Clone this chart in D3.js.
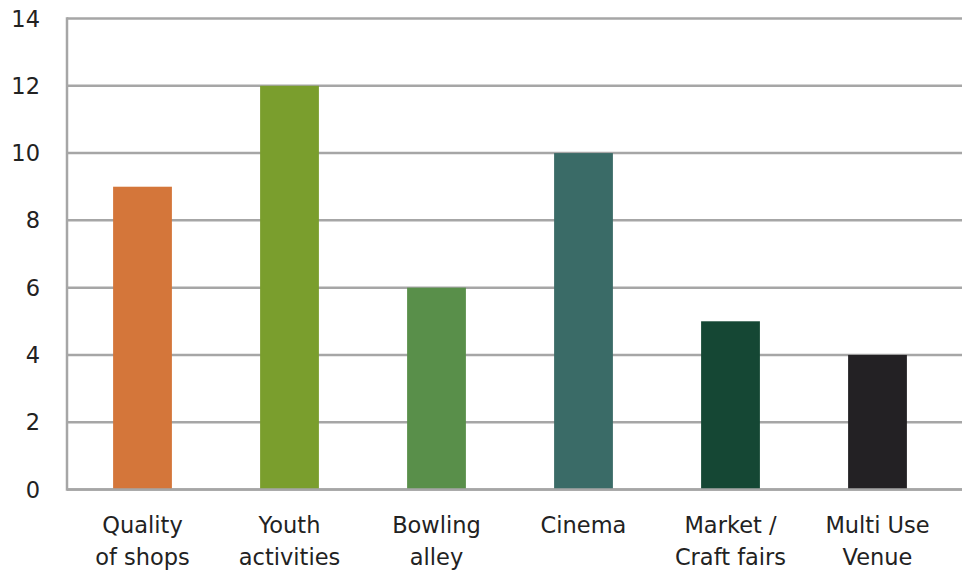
<!DOCTYPE html>
<html>
<head>
<meta charset="utf-8">
<script src="https://cdn.jsdelivr.net/npm/d3@7"></script>
<style>
  html, body { margin: 0; padding: 0; background: #fff; }
  svg { display: block; }
  text { font-family: "DejaVu Sans", sans-serif; fill: #222; }
</style>
</head>
<body>
<svg id="chart" width="962" height="571"></svg>
<script>
// categories and values
const categories = ['Quality\nof shops', 'Youth\nactivities', 'Bowling\nalley', 'Cinema', 'Market /\nCraft fairs', 'Multi Use\nVenue'];
const values = [9, 12, 6, 10, 5, 4];
const colors = ['#d4763a', '#7a9e2d', '#598f4a', '#3a6b67', '#154734', '#232124'];
const yTicks = [0, 2, 4, 6, 8, 10, 12, 14];

const W = 962, H = 571;
const axisX = 67;
const fontSize = 22.5;

const svg = d3.select('#chart');

const x = d3.scaleBand()
    .domain(categories)
    .range([69, 951])
    .padding(0);

const y = d3.scaleLinear()
    .domain([0, 14])
    .range([489.5, 18.5]);

// gridlines
svg.append('g')
    .selectAll('line')
    .data(yTicks)
    .join('line')
    .attr('x1', axisX)
    .attr('x2', W)
    .attr('y1', d => y(d))
    .attr('y2', d => y(d))
    .attr('stroke', '#a6a6a6')
    .attr('stroke-width', 2.5);

// y tick labels
svg.append('g')
    .selectAll('text')
    .data(yTicks)
    .join('text')
    .attr('x', 40)
    .attr('y', d => y(d))
    .attr('dy', '0.36em')
    .attr('text-anchor', 'end')
    .attr('font-size', fontSize)
    .text(d => d);

// bars
const barW = x.bandwidth() * 0.4;
svg.append('g')
    .selectAll('rect')
    .data(values)
    .join('rect')
    .attr('x', (d, i) => x(categories[i]) + (x.bandwidth() - barW) / 2)
    .attr('y', d => y(d))
    .attr('width', barW)
    .attr('height', d => y(0) - y(d))
    .attr('fill', (d, i) => colors[i]);

// redraw baseline over bars
svg.append('line')
    .attr('x1', axisX).attr('x2', W)
    .attr('y1', y(0)).attr('y2', y(0))
    .attr('stroke', '#a6a6a6')
    .attr('stroke-width', 2.5);

// left axis line
svg.append('line')
    .attr('x1', axisX).attr('x2', axisX)
    .attr('y1', y(14) - 1.25).attr('y2', y(0) + 1.25)
    .attr('stroke', '#a6a6a6')
    .attr('stroke-width', 2.5);

// category labels (two lines)
const lab = svg.append('g')
    .selectAll('text')
    .data(categories)
    .join('text')
    .attr('x', d => x(d) + x.bandwidth() / 2)
    .attr('y', 533)
    .attr('text-anchor', 'middle')
    .attr('font-size', fontSize);

lab.selectAll('tspan')
    .data(d => d.split('\n'))
    .join('tspan')
    .attr('x', function () { return d3.select(this.parentNode).attr('x'); })
    .attr('dy', (d, i) => i === 0 ? 0 : 32)
    .text(d => d);
</script>
</body>
</html>
